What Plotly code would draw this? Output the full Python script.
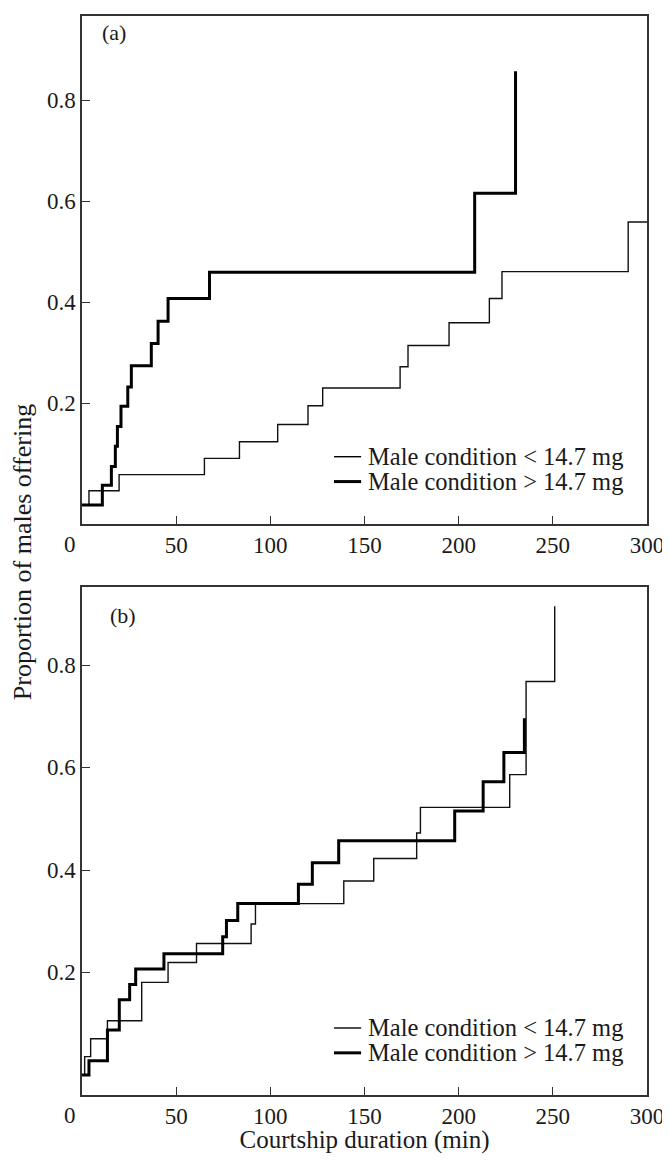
import plotly.graph_objects as go
from plotly.subplots import make_subplots

# panel (a): courtship duration (min) at each step, cumulative proportion offering
a_low_x = [0, 3.7, 19.7, 65.0, 83.6, 103.9, 120.0, 127.8, 168.9, 173.1, 194.9, 216.3, 223.0, 290.0, 300]
a_low_y = [0, 0.028, 0.060, 0.092, 0.125, 0.159, 0.196, 0.231, 0.273, 0.315, 0.360, 0.408, 0.461, 0.559, 0.559]
a_high_x = [0, 10.8, 15.6, 17.7, 18.8, 20.7, 24.3, 26.2, 36.8, 40.4, 45.7, 67.7, 208.5, 230.2]
a_high_y = [0, 0.039, 0.076, 0.116, 0.155, 0.195, 0.233, 0.275, 0.319, 0.363, 0.408, 0.460, 0.616, 0.857]

# panel (b)
b_low_x = [0, 1.4, 4.6, 13.5, 31.7, 45.7, 60.8, 89.8, 92.1, 139.0, 154.9, 177.7, 179.7, 227.1, 235.8, 251.0]
b_low_y = [0, 0.036, 0.071, 0.106, 0.181, 0.220, 0.257, 0.295, 0.335, 0.379, 0.423, 0.473, 0.523, 0.587, 0.769, 0.916]
b_high_x = [0, 3.7, 13.5, 19.8, 25.3, 28.5, 43.5, 74.7, 76.7, 82.7, 114.9, 122.3, 136.3, 197.9, 213.0, 224.0, 234.9]
b_high_y = [0, 0.028, 0.088, 0.147, 0.177, 0.207, 0.237, 0.270, 0.302, 0.335, 0.373, 0.415, 0.458, 0.516, 0.573, 0.630, 0.697]

names = ["Male condition < 14.7 mg", "Male condition > 14.7 mg"]
x_ticks = [50, 100, 150, 200, 250, 300]
y_ticks = [0.2, 0.4, 0.6, 0.8]

FONT = "Liberation Serif"
INK = "#1a1a1a"
THIN, THICK = 1.4, 3

fig = make_subplots(rows=2, cols=1, vertical_spacing=0.0589)

panels = [(a_low_x, a_low_y, a_high_x, a_high_y), (b_low_x, b_low_y, b_high_x, b_high_y)]
for row, (lx, ly, hx, hy) in enumerate(panels, start=1):
    fig.add_trace(go.Scatter(x=lx, y=ly, mode="lines", line_shape="hv", showlegend=False,
                             line=dict(color="#111", width=THIN), name=names[0]), row=row, col=1)
    fig.add_trace(go.Scatter(x=hx, y=hy, mode="lines", line_shape="hv", showlegend=False,
                             line=dict(color="#000", width=THICK), name=names[1]), row=row, col=1)

axis_style = dict(showline=True, mirror=True, linecolor="#333", linewidth=1.5,
                  ticks="inside", ticklen=8, tickwidth=1.3, tickcolor="#333",
                  showgrid=False, zeroline=False,
                  tickfont=dict(family=FONT, size=23, color=INK))
fig.update_xaxes(range=[0, 300], tickvals=x_ticks, ticklabeloverflow="allow", **axis_style)
# y labels sit closer to the axis than plotly puts them, so they are annotations below
fig.update_yaxes(tickvals=y_ticks, showticklabels=False, **axis_style)
fig.update_yaxes(range=[-0.037, 0.966], row=1, col=1)
fig.update_yaxes(range=[-0.039, 0.953], row=2, col=1)
fig.update_xaxes(title=dict(text="Courtship duration (min)", font=dict(family=FONT, size=25, color=INK),
                            standoff=1), row=2, col=1)

# page body has an 8px margin, so the figure is shifted by 8px
fig.update_layout(
    width=662, height=1146,
    margin=dict(l=74, r=21, t=6, b=51),
    paper_bgcolor="white", plot_bgcolor="white",
    showlegend=False,
)

tick_font = dict(family=FONT, size=23, color=INK)
for xr, yr in (("x", "y"), ("x2", "y2")):
    for v in y_ticks:
        fig.add_annotation(text=f"{v:.1f}", x=0, y=v, xref=xr + " domain", yref=yr,
                           xanchor="right", yanchor="middle", xshift=-4,
                           showarrow=False, font=tick_font)
    # origin label sits left of the axis
    fig.add_annotation(text="0", x=0, y=0, xref=xr, yref=yr + " domain", xanchor="center", yanchor="top",
                       xshift=-12, yshift=-6, showarrow=False, font=tick_font)

# legend keys drawn by hand so the row spacing matches
for xd, yd in (("x domain", "y domain"), ("x2 domain", "y2 domain")):
    for name, width, ypos in ((names[0], THIN, 0.132), (names[1], THICK, 0.083)):
        fig.add_shape(type="line", xref=xd, yref=yd, x0=0.446, x1=0.494, y0=ypos, y1=ypos,
                      line=dict(color="#000", width=width))
        fig.add_annotation(text=name, x=0.502, y=ypos, xref=xd, yref=yd, xanchor="left",
                           yanchor="middle", showarrow=False,
                           font=dict(family=FONT, size=24.5, color=INK))

# panel letters and the shared y title
fig.add_annotation(text="(a)", x=0.057, y=0.967, xref="x domain", yref="y domain",
                   xanchor="center", yanchor="middle",
                   showarrow=False, font=dict(family=FONT, size=22, color=INK))
fig.add_annotation(text="(b)", x=0.073, y=0.945, xref="x2 domain", yref="y2 domain",
                   xanchor="center", yanchor="middle",
                   showarrow=False, font=dict(family=FONT, size=22, color=INK))
fig.add_annotation(text="Proportion of males offering", x=-0.105, y=0.5028, xref="paper", yref="paper",
                   xanchor="center", yanchor="middle",
                   textangle=-90, showarrow=False, font=dict(family=FONT, size=26, color=INK))

fig.write_html("out.html")
